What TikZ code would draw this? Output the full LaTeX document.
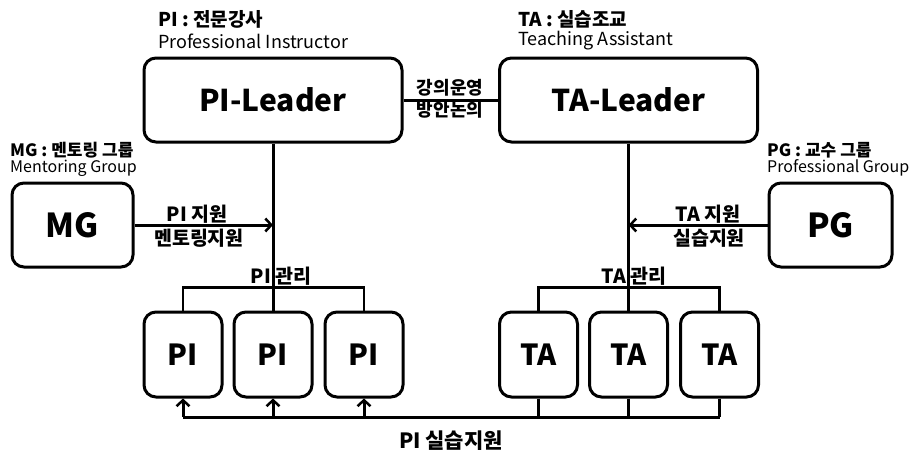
\documentclass[tikz,border=0pt]{standalone}
\usepackage{fontspec}
\setmainfont{Noto Sans CJK KR}
\usetikzlibrary{arrows.meta}
\tikzset{
  box/.style={draw, line width=3pt, rounded corners=12pt, inner sep=0pt, align=center, font=\bfseries\fontsize{30}{34}\selectfont},
  smallbox/.style={box, minimum width=78pt, minimum height=85pt, font=\bfseries\fontsize{29}{32}\selectfont},
  conn/.style={line width=3pt},
  thin/.style={line width=2.4pt},
  arr/.style={line width=3pt, -{Straight Barb[length=6pt,width=13pt,line width=2.5pt]}},
  lbl/.style={font=\bfseries\fontsize{19.5}{22}\selectfont, inner sep=0pt, align=center},
  ttl/.style={font=\bfseries\fontsize{19}{22}\selectfont, inner sep=0pt, anchor=west},
  sub/.style={font=\fontsize{18}{21}\selectfont, inner sep=0pt, anchor=west},
  sttl/.style={ttl, font=\bfseries\fontsize{17}{20}\selectfont},
  ssub/.style={sub, font=\fontsize{16}{19}\selectfont},
}
\begin{document}
\begin{tikzpicture}[x=1pt, y=-1pt]
\useasboundingbox (0,0) rectangle (916,463);
% leaders
\node[box, minimum width=258pt, minimum height=84pt] (PIL) at (273,100) {PI-Leader};
\node[box, minimum width=258pt, minimum height=84pt] (TAL) at (628.5,100) {TA-Leader};
% groups
\node[box, minimum width=121pt, minimum height=84pt, font=\bfseries\fontsize{33}{36}\selectfont] (MG) at (72.5,225) {MG};
\node[box, minimum width=123pt, minimum height=84pt, font=\bfseries\fontsize{33}{36}\selectfont] (PG) at (830.5,225) {PG};
% PI / TA boxes
\node[smallbox] (PI1) at (183,354.5) {PI};
\node[smallbox] (PI2) at (273,354.5) {PI};
\node[smallbox] (PI3) at (364,354.5) {PI};
\node[smallbox] (TA1) at (538.5,354.5) {TA};
\node[smallbox] (TA2) at (628.5,354.5) {TA};
\node[smallbox] (TA3) at (719.5,354.5) {TA};
% titles
\node[ttl] (t1) at (158,19) {PI : 전문강사};
\node[sub] (s1) at (158,41) {Professional Instructor};
\node[ttl] (t2) at (518,19) {TA : 실습조교};
\node[sub] (s2) at (518,41) {Teaching Assistant};
\node[sttl] (t3) at (10,150) {MG : 멘토링 그룹};
\node[ssub] (s3) at (10,168) {Mentoring Group};
\node[sttl] (t4) at (767,150) {PG : 교수 그룹};
\node[ssub] (s4) at (767,168) {Professional Group};
% leader link
\draw[conn] (PIL.east) -- (TAL.west);
\node[lbl, font=\bfseries\fontsize{18}{21}\selectfont] (l1) at (450,88) {강의운영};
\node[lbl, font=\bfseries\fontsize{18}{21}\selectfont] (l2) at (450,110) {방안논의};
% PI tree
\draw[conn] (PIL.south) -- (PI2.north);
\draw[thin] (PI1.north) -- ++(0,-23) -| (PI3.north);
\node[lbl] (l3) at (281,276) {PI 관리};
% TA tree
\draw[conn] (TAL.south) -- (TA2.north);
\draw[thin] (TA1.north) -- ++(0,-23) -| (TA3.north);
\node[lbl] (l4) at (634,276) {TA 관리};
% support arrows
\draw[arr] (MG.east) -- (MG.east -| PIL.south);
\node[lbl] (l5) at (197,214) {PI 지원};
\node[lbl] (l6) at (199,238) {멘토링지원};
\draw[arr] (PG.west) -- (PG.west -| TAL.south);
\node[lbl] (l7) at (708,214) {TA 지원};
\node[lbl] (l8) at (709,238) {실습지원};
% bottom
\coordinate (bl) at (183,417);
\draw[conn] (PI1.south |- bl) -- (TA3.south |- bl);
\draw[arr] (PI1.south |- bl) -- (PI1.south);
\draw[arr] (PI2.south |- bl) -- (PI2.south);
\draw[arr] (PI3.south |- bl) -- (PI3.south);
\draw[thin] (TA1.south) -- (TA1.south |- bl);
\draw[thin] (TA2.south) -- (TA2.south |- bl);
\draw[thin] (TA3.south) -- (TA3.south |- bl);
\node[lbl, font=\bfseries\fontsize{21}{24}\selectfont] (l9) at (451,441) {PI 실습지원};
\end{tikzpicture}
\end{document}
